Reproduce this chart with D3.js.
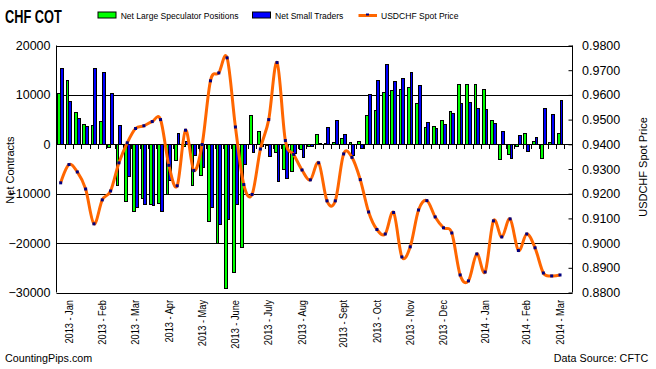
<!DOCTYPE html>
<html><head><meta charset="utf-8">
<script src="https://cdn.jsdelivr.net/npm/d3@7/dist/d3.min.js"></script>
<style>
html,body{margin:0;padding:0;background:#fff;}
svg{display:block;font-family:"Liberation Sans",Arial,sans-serif;}
</style></head>
<body>
<svg id="c" width="656" height="369"></svg>
<script>
// ---- data (weekly COT reports, Jan 2013 - Mar 2014) ----
const tickLabels = ["","2013 - Jan","","","","2013 - Feb","","","","2013 - Mar","","","","2013 - Apr","","","","2013 - May","","","","2013 - June","","","","2013 - July","","","","2013 - Aug","","","","","2013 - Sept","","","","2013 - Oct","","","","2013 - Nov","","","","2013 - Dec","","","","","2014 - Jan","","","","","2014 - Feb","","","","2014 - Mar",""];
const largeSpec = [10300,12900,6400,4100,3900,4550,-600,-8400,-11600,-13700,-11000,-12250,-12050,-10200,-3250,-400,-8350,-6350,-15600,-20000,-29200,-26000,-20900,5800,2500,-300,-1700,-5100,-5600,-1150,-500,2050,200,300,1100,400,650,5800,6850,10500,10900,11100,11500,8200,3300,3650,4750,6600,12100,12100,12100,11100,4750,-3050,-2100,-500,2250,650,-2950,400,2250,null];
const smallTraders = [15350,8650,5300,3550,15350,14550,10250,3750,-6550,-12850,-12250,-12450,-13700,-7300,2250,600,-2300,-4750,-12750,-16300,-15300,-12250,-4100,-1700,-500,-2550,-7450,-7000,-1850,-2650,-500,200,3450,4750,1900,-2350,-800,10050,12900,16200,12700,13300,14500,11900,4350,3250,3950,6200,8200,8450,7200,7000,4150,2500,-2800,1850,-1500,1450,7200,6000,8850,null];
const spotPrice = [0.9244,0.9318,0.9288,0.9219,0.9078,0.9175,0.9211,0.9325,0.9406,0.9464,0.9475,0.9492,0.9500,0.9315,0.9232,0.9457,0.9294,0.9399,0.9657,0.9689,0.9750,0.9470,0.9237,0.9197,0.9381,0.9500,0.9731,0.9415,0.9359,0.9296,0.9256,0.9325,0.9171,0.9171,0.9361,0.9347,0.9257,0.9126,0.9055,0.9037,0.9124,0.8944,0.8985,0.9134,0.9172,0.9106,0.9062,0.9041,0.8871,0.8847,0.8956,0.8883,0.9090,0.9025,0.9098,0.8970,0.9037,0.8981,0.8879,0.8867,0.8871,null];
const leftTicks = [-30000,-20000,-10000,0,10000,20000];
const rightTicks = [0.88,0.89,0.90,0.91,0.92,0.93,0.94,0.95,0.96,0.97,0.98];
const seriesNames = ["Net Large Speculator Positions","Net Small Traders","USDCHF Spot Price"];

const svg = d3.select("#c");
const L = 56.5, R = 572.5, T = 45.5, B = 292.5;
const idx = tickLabels.map((d,i)=>i);
const x = d3.scaleBand().domain(idx).range([L,R]).paddingInner(0.33).paddingOuter(0.165);
const step = x.step();
const x1 = d3.scaleBand().domain(["spec","small"]).range([0,x.bandwidth()]);
const y = d3.scaleLinear().domain([-30000,20000]).range([B,T]);
const yR = d3.scaleLinear().domain([0.88,0.98]).range([B,T]);
const cx = i => x(i) + x.bandwidth()/2;

svg.append("rect").attr("width",656).attr("height",369).attr("fill","#fff");

// gridlines
svg.append("g").selectAll("line").data(leftTicks).join("line")
  .attr("x1",L).attr("x2",R).attr("y1",d=>Math.round(y(d))+0.5).attr("y2",d=>Math.round(y(d))+0.5)
  .attr("stroke","#000").attr("stroke-width",1);

// bars
const barG = svg.append("g").attr("shape-rendering","crispEdges");
function drawBars(vals, key, color){
  barG.append("g").selectAll("rect").data(vals.map((v,i)=>({v,i})).filter(d=>d.v!==null)).join("rect")
    .attr("x",d=>x(d.i)+x1(key))
    .attr("width",x1.bandwidth())
    .attr("y",d=>Math.min(y(d.v),y(0)))
    .attr("height",d=>Math.abs(y(d.v)-y(0)))
    .attr("fill",color).attr("stroke","#000").attr("stroke-width",1);
}
drawBars(largeSpec,"spec","#00ff00");
drawBars(smallTraders,"small","#0000ff");

// zero axis line and category ticks
const z = Math.round(y(0))+0.5;
svg.append("line").attr("x1",L).attr("x2",R).attr("y1",z).attr("y2",z).attr("stroke","#000");
svg.append("g").attr("shape-rendering","crispEdges").selectAll("line").data(idx.slice(1)).join("line")
  .attr("x1",d=>Math.round(x(d)-step*0.165)+0.5).attr("x2",d=>Math.round(x(d)-step*0.165)+0.5)
  .attr("y1",z).attr("y2",z+4).attr("stroke","#000");

// plot borders
svg.append("line").attr("x1",L).attr("x2",L).attr("y1",T).attr("y2",B).attr("stroke","#000");
svg.append("line").attr("x1",R).attr("x2",R).attr("y1",T).attr("y2",B).attr("stroke","#000");

// left axis
const la = svg.append("g").attr("transform",`translate(${L},0)`)
  .call(d3.axisLeft(y).tickValues(leftTicks).tickSize(0).tickPadding(6).tickFormat(d3.format("d")));
la.select(".domain").remove();
la.selectAll("text").attr("font-size","12.5px").attr("font-family","Liberation Sans, Arial, sans-serif").attr("fill","#000");

// right axis
const ra = svg.append("g").attr("transform",`translate(${R},0)`)
  .call(d3.axisRight(yR).tickValues(rightTicks).tickSizeInner(-4).tickSizeOuter(0).tickPadding(9.5).tickFormat(d3.format(".4f")));
ra.select(".domain").remove();
ra.selectAll("line").attr("stroke","#000");
ra.selectAll("text").attr("font-size","12.5px").attr("font-family","Liberation Sans, Arial, sans-serif").attr("fill","#000");

// price line
const line = d3.line().defined(d=>d.v!==null).x(d=>cx(d.i)).y(d=>yR(d.v)).curve(d3.curveCardinal.tension(0));
const pd = spotPrice.map((v,i)=>({v,i}));
svg.append("path").datum(pd).attr("d",line).attr("fill","none").attr("stroke","#ff6600").attr("stroke-width",3).attr("stroke-linejoin","round");
svg.append("g").selectAll("rect").data(pd.filter(d=>d.v!==null)).join("rect")
  .attr("x",d=>cx(d.i)-1.5).attr("y",d=>yR(d.v)-1.5).attr("width",3).attr("height",3).attr("fill","#000080");

// x labels
svg.append("g").selectAll("text").data(idx.filter(i=>tickLabels[i]!=="")).join("text")
  .attr("transform",i=>`translate(${cx(i)},300) rotate(-90) scale(0.88,1)`)
  .attr("text-anchor","end").attr("dy","0.35em").attr("font-size","10.5px").text(i=>tickLabels[i]);

// title
svg.append("text").attr("transform","translate(5,22.7) scale(0.73,1)").attr("font-size","17.5px").attr("font-weight","bold").text("CHF COT");

// legend
const lg = svg.append("g").attr("font-size","9.3px");
lg.append("rect").attr("x",98).attr("y",12).attr("width",18).attr("height",6).attr("fill","#00ff00").attr("stroke","#000");
lg.append("text").attr("transform","translate(120.7,19.3) scale(0.92,1)").text(seriesNames[0]);
lg.append("rect").attr("x",252.5).attr("y",12).attr("width",18).attr("height",6).attr("fill","#0000ff").attr("stroke","#000");
lg.append("text").attr("transform","translate(275,19.3) scale(0.92,1)").text(seriesNames[1]);
lg.append("line").attr("x1",358.5).attr("x2",377).attr("y1",15.5).attr("y2",15.5).attr("stroke","#ff6600").attr("stroke-width",3);
lg.append("rect").attr("x",366).attr("y",13.5).attr("width",3).attr("height",2).attr("fill","#000080");
lg.append("text").attr("transform","translate(381,19.3) scale(0.92,1)").text(seriesNames[2]);

// axis titles
svg.append("text").attr("transform","translate(10,170) rotate(-90)").attr("text-anchor","middle").attr("dy","0.35em").attr("font-size","11px").text("Net Contracts");
svg.append("text").attr("transform","translate(643,167) rotate(-90)").attr("text-anchor","middle").attr("dy","0.35em").attr("font-size","11px").text("USDCHF Spot Price");

// footer
svg.append("text").attr("transform","translate(5,361.7) scale(0.92,1)").attr("font-size","11.7px").text("CountingPips.com");
svg.append("text").attr("transform","translate(648.3,361.7) scale(0.92,1)").attr("text-anchor","end").attr("font-size","11.7px").text("Data Source: CFTC");
</script>
</body></html>
